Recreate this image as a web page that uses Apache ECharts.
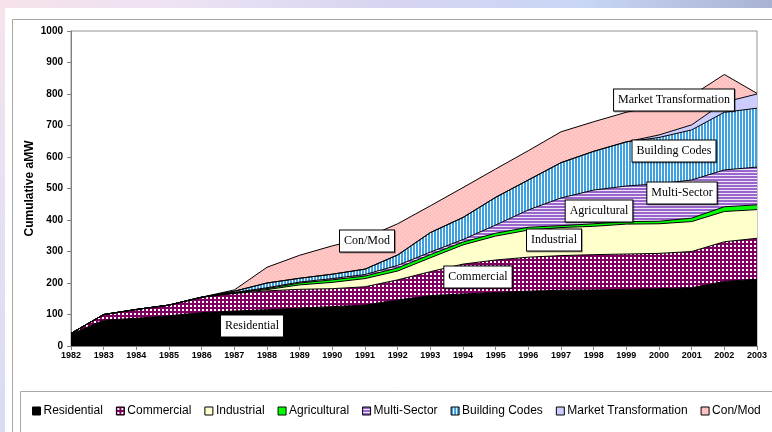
<!DOCTYPE html>
<html>
<head>
<meta charset="utf-8">
<script src="https://cdn.jsdelivr.net/npm/echarts@6/dist/echarts.min.js"></script>
<style>
  html, body { margin: 0; padding: 0; }
  body {
    width: 772px; height: 432px; overflow: hidden; position: relative;
    background:
      linear-gradient(to right, #f6e2ea 0%, #ece2f4 25%, #d6d4f0 50%, #c9d6f6 75%, #a9b2d2 100%) top left / 100% 8px no-repeat,
      linear-gradient(to bottom, #f4e4ec 0%, #e6dff2 50%, #d8dcf4 100%);
  }
  #main { position: absolute; left: 5px; top: 8px; width: 767px; height: 424px; background: #fff; }
</style>
</head>
<body>
<div id="main"></div>
<script>
// cumulative aMW
var years = ['1982', '1983', '1984', '1985', '1986', '1987', '1988', '1989', '1990', '1991', '1992',
             '1993', '1994', '1995', '1996', '1997', '1998', '1999', '2000', '2001', '2002', '2003']
var residential = [38, 82, 88, 96, 106, 111, 115, 120, 125, 130, 146, 160, 165, 170, 174, 177, 178, 180, 182, 185, 205, 212]
var commercial  = [2, 18, 28, 34, 49, 56, 60, 60, 57, 58, 64, 76, 95, 103, 108, 110, 112, 112, 112, 115, 126, 130]
var industrial  = [0, 0, 0, 0, 0, 1, 4, 14, 20, 26, 28, 44, 61, 76, 86, 89, 90, 95, 94, 95, 96, 91]
var agricultural = [0, 0, 0, 0, 0, 1, 3, 6, 8, 8, 10, 10, 9, 9, 9, 6, 8, 8, 8, 11, 15, 15]
var multiSector = [0, 0, 0, 0, 0, 1, 3, 3, 4, 5, 8, 8, 8, 26, 55, 88, 107, 113, 119, 121, 117, 120]
var buildingCodes = [0, 0, 0, 0, 0, 4, 15, 12, 14, 17, 33, 62, 70, 88, 95, 112, 123, 140, 147, 159, 183, 187]
var marketTrans = [0, 0, 0, 0, 0, 0, 0, 0, 0, 0, 0, 0, 0, 0, 0, 0, 0, 0, 8, 16, 32, 45]
var conMod = [0, 0, 0, 0, 0, 4, 50, 73, 90, 99, 99, 85, 95, 90, 93, 98, 94, 94, 95, 93, 88, 2]

var yTicks = [0, 1000, 100]

// annotation boxes: name, year (fractional), aMW
var notes = [
  ['Residential', 1987.53, 63],
  ['Commercial', 1994.47, 218],
  ['Industrial', 1996.8, 338],
  ['Agricultural', 1998.15, 429],
  ['Multi-Sector', 2000.7, 487],
  ['Building Codes', 2000.45, 618],
  ['Market Transformation', 2000.45, 781],
  ['Con/Mod', 1991.05, 333]
]

function pattern(w, h, draw) {
  var c = document.createElement('canvas')
  c.width = w
  c.height = h
  draw(c.getContext('2d'))
  return { image: c, repeat: 'repeat' }
}

var fills = {
  'Residential': '#000000',
  'Commercial': pattern(4, 4, function (g) {
    g.fillStyle = '#800060'; g.fillRect(0, 0, 4, 4)
    g.fillStyle = '#ffffff'; g.fillRect(1, 1, 2, 2)
  }),
  'Industrial': '#ffffcc',
  'Agricultural': '#00ff00',
  'Multi-Sector': pattern(1, 3, function (g) {
    g.fillStyle = '#9966cc'; g.fillRect(0, 0, 1, 2)
    g.fillStyle = '#eee4f8'; g.fillRect(0, 2, 1, 1)
  }),
  'Building Codes': pattern(3, 1, function (g) {
    g.fillStyle = '#3ea2e2'; g.fillRect(0, 0, 2, 1)
    g.fillStyle = '#ffffff'; g.fillRect(2, 0, 1, 1)
  }),
  'Market Transformation': '#ccccff',
  'Con/Mod': pattern(4, 4, function (g) {
    g.fillStyle = '#ffc0c0'; g.fillRect(0, 0, 4, 4)
    g.fillStyle = '#ffd8d8'; g.fillRect(0, 0, 1, 1); g.fillRect(2, 2, 1, 1)
  })
}

var seriesList = [
  ['Residential', residential],
  ['Commercial', commercial],
  ['Industrial', industrial],
  ['Agricultural', agricultural],
  ['Multi-Sector', multiSector],
  ['Building Codes', buildingCodes],
  ['Market Transformation', marketTrans],
  ['Con/Mod', conMod]
]

var chart = echarts.init(document.getElementById('main'))

var series = seriesList.map(function (s) {
  return {
    name: s[0],
    type: 'line',
    stack: 'total',
    data: s[1],
    showSymbol: false,
    symbol: 'none',
    lineStyle: { color: '#000', width: 1 },
    itemStyle: { color: fills[s[0]] },
    areaStyle: { color: fills[s[0]], opacity: 1 },
    emphasis: { disabled: true }
  }
})

chart.setOption({
  animation: false,
  grid: {
    left: 66, right: 15, top: 23, bottom: 86,
    show: true, borderColor: '#909090', borderWidth: 1
  },
  legend: {
    left: 22,
    top: 392,
    icon: 'rect',
    itemWidth: 8,
    itemHeight: 8,
    itemGap: 13,
    selectedMode: false,
    itemStyle: { borderColor: '#000', borderWidth: 1 },
    textStyle: { fontFamily: 'Liberation Sans', fontSize: 12, color: '#000', padding: [0, 0, 0, -2] },
    data: seriesList.map(function (s) {
      return { name: s[0], itemStyle: { color: fills[s[0]] } }
    })
  },
  xAxis: {
    type: 'category',
    data: years,
    boundaryGap: false,
    splitLine: { show: false },
    axisLine: { lineStyle: { color: '#808080' } },
    axisTick: { length: 4, interval: 0, lineStyle: { color: '#808080' } },
    axisLabel: { interval: 0, color: '#000', fontFamily: 'Liberation Sans', fontSize: 9, fontWeight: 'bold', margin: 5 }
  },
  yAxis: {
    type: 'value',
    min: yTicks[0],
    max: yTicks[1],
    interval: yTicks[2],
    name: 'Cumulative aMW',
    nameLocation: 'middle',
    nameGap: 35,
    nameMoveOverlap: false,
    nameTextStyle: { fontFamily: 'Liberation Sans', fontSize: 12, fontWeight: 'bold', color: '#000' },
    splitLine: { show: false },
    axisLine: { show: true, lineStyle: { color: '#808080' } },
    axisTick: { show: true, length: 4, lineStyle: { color: '#808080' } },
    axisLabel: {
      color: '#000', fontFamily: 'Liberation Sans', fontSize: 10, fontWeight: 'bold', margin: 8,
      formatter: function (v) { return String(v) }
    }
  },
  series: series
})

// place annotation boxes through the chart's own scales
function toPixel(year, value) {
  var i = Math.floor(year - Number(years[0]))
  var f = year - Number(years[0]) - i
  var a = chart.convertToPixel({ gridIndex: 0 }, [i, value])
  var b = chart.convertToPixel({ gridIndex: 0 }, [Math.min(i + 1, years.length - 1), value])
  return [a[0] + (b[0] - a[0]) * f, a[1]]
}

var graphics = [
  { type: 'rect', z: -10, silent: true, shape: { x: 7.5, y: 11.5, width: 800, height: 500 },
    style: { fill: 'none', stroke: '#a8a8a8', lineWidth: 1 } },
  { type: 'rect', z: -10, silent: true, shape: { x: 15.5, y: 383.5, width: 800, height: 100 },
    style: { fill: '#fff', stroke: '#a8a8a8', lineWidth: 1 } }
]
notes.forEach(function (n) {
  var p = toPixel(n[1], n[2])
  graphics.push({
    type: 'text',
    z: 100,
    x: Math.round(p[0]),
    y: Math.round(p[1]),
    style: {
      text: n[0],
      font: '12px "Liberation Serif"',
      fill: '#000',
      align: 'center',
      verticalAlign: 'middle',
      backgroundColor: '#fff',
      borderColor: '#000',
      borderWidth: 1,
      padding: [5, 4, 4, 4],
      shadowColor: 'rgba(0,0,0,0.35)',
      shadowOffsetX: 1,
      shadowOffsetY: 1
    }
  })
})
chart.setOption({ graphic: graphics })
</script>
</body>
</html>
